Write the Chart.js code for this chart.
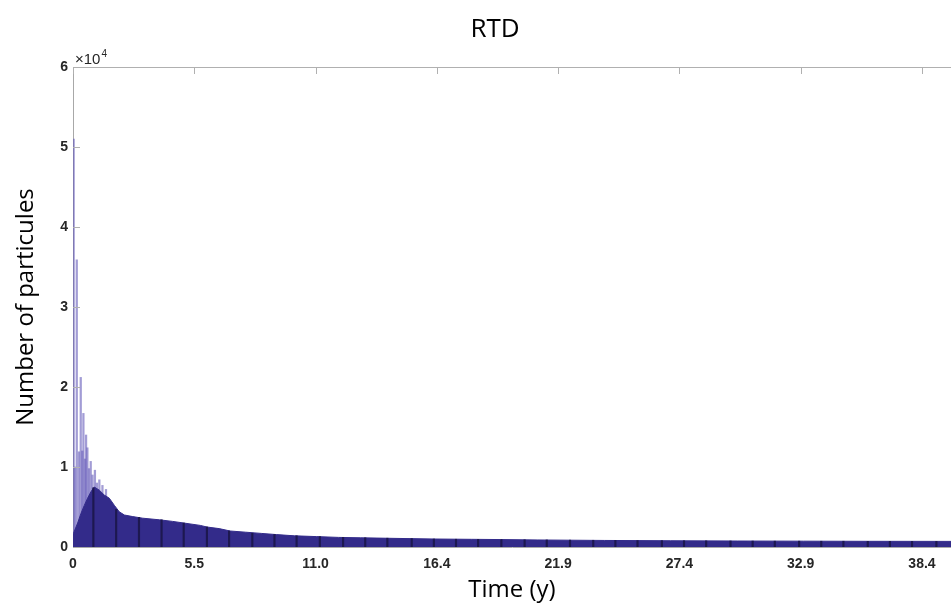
<!DOCTYPE html>
<html>
<head>
<meta charset="utf-8">
<title>RTD</title>
<script src="https://cdn.jsdelivr.net/npm/chart.js@4.4.1/dist/chart.umd.min.js"></script>
<style>
  html, body { margin: 0; padding: 0; background: #fff; overflow: hidden; }
  #wrap { width: 951px; height: 615px; position: relative; }
</style>
</head>
<body>
<div id="wrap"><canvas id="rtd"></canvas></div>
<script>
// x ticks (years) and their printed labels
const xTickValues = [0, 5.479, 10.957, 16.436, 21.914, 27.393, 32.871, 38.35];
const xTickLabels = ['0', '5.5', '11.0', '16.4', '21.9', '27.4', '32.9', '38.4'];

// outline of the dense part of the histogram
const bodyTime = [0, 0.02, 0.21, 0.36, 0.51, 0.66, 0.81, 0.96, 1.19, 1.41, 1.64, 1.87, 2.09, 2.32, 2.70, 3.15, 3.9, 4.5, 5.0, 5.75, 6.05, 6.6, 7.1, 7.8, 8.5, 9.2, 10.0, 11.0, 12.0, 13.0, 14.5, 16.3, 18.0, 19.3, 21.0, 24.0, 27.0, 30.0, 33.0, 36.0, 39.7];
const bodyCount = [0, 1700, 3000, 4200, 5200, 6100, 6900, 7500, 7100, 6500, 6100, 5200, 4400, 4000, 3800, 3600, 3400, 3200, 3000, 2700, 2500, 2300, 2000, 1850, 1700, 1550, 1400, 1300, 1200, 1150, 1080, 1000, 960, 930, 880, 820, 780, 750, 730, 710, 700];

// isolated tall bins near t = 0
const spikeTime = [0.03, 0.09, 0.17, 0.27, 0.35, 0.42, 0.47, 0.54, 0.59, 0.65, 0.72, 0.80, 0.88, 0.99, 1.08, 1.19, 1.33, 1.49];
const spikeCount = [51000, 10000, 35900, 11900, 21200, 12000, 16700, 11000, 14000, 12400, 9800, 10700, 9000, 9600, 8000, 8400, 7700, 7200];

// darker bin edges seen roughly every year
const edgeTime = [0.92, 1.95, 2.98, 4.0, 5.0, 6.05, 7.05, 8.1, 9.1, 10.1, 11.15, 12.2, 13.2, 14.2, 15.3, 16.3, 17.3, 18.3, 19.35, 20.4, 21.4, 22.45, 23.5, 24.5, 25.5, 26.6, 27.6, 28.6, 29.7, 30.7, 31.7, 32.8, 33.8, 34.8, 35.9, 36.9, 37.9, 39.0];
const edgeCount = [7400, 4700, 3700, 3400, 3000, 2500, 2000, 1720, 1560, 1400, 1300, 1200, 1150, 1100, 1050, 1000, 970, 950, 930, 900, 880, 860, 840, 820, 800, 790, 780, 770, 750, 740, 730, 730, 720, 720, 710, 710, 700, 700];

function pts(xs, ys) {
  return xs.map((x, i) => ({ x: x, y: ys[i] }));
}

// MATLAB-like box: top border, inward ticks, title and the x10^4 factor
const matlabBox = {
  id: 'matlabBox',
  afterDraw(chart) {
    const ctx = chart.ctx;
    const a = chart.chartArea;
    const xs = chart.scales.x, ys = chart.scales.y;
    ctx.save();
    ctx.strokeStyle = '#b0b0b0';
    ctx.lineWidth = 1;
    ctx.beginPath();
    ctx.moveTo(a.left, a.top + 0.5);
    ctx.lineTo(a.right, a.top + 0.5);
    xs.ticks.forEach(t => {
      const px = Math.round(xs.getPixelForValue(t.value)) + 0.5;
      ctx.moveTo(px, a.top);
      ctx.lineTo(px, a.top + 7);
    });
    ys.ticks.forEach(t => {
      const py = Math.round(ys.getPixelForValue(t.value)) + 0.5;
      if (t.value > 0) {
        ctx.moveTo(a.left, py);
        ctx.lineTo(a.left + 7, py);
      }
    });
    ctx.stroke();

    ctx.fillStyle = '#262626';
    ctx.textBaseline = 'alphabetic';
    ctx.textAlign = 'left';
    ctx.font = '15px "Liberation Sans", Arial, sans-serif';
    ctx.fillText('\u00d710', a.left + 2, a.top - 3);
    const w = ctx.measureText('\u00d710').width;
    ctx.font = '10px "Liberation Sans", Arial, sans-serif';
    ctx.fillText('4', a.left + 2 + w + 1, a.top - 10);

    ctx.fillStyle = '#000';
    ctx.textAlign = 'center';
    ctx.font = '26px "Open Sans", sans-serif';
    ctx.fillText('RTD', 495, 37);
    ctx.restore();
  }
};

new Chart(document.getElementById('rtd'), {
  type: 'bar',
  data: {
    datasets: [
      {
        type: 'bar',
        label: 'spikes',
        data: pts(spikeTime, spikeCount),
        backgroundColor: 'rgba(100, 90, 185, 0.6)',
        barThickness: 1.6,
        grouped: false,
        order: 3
      },
      {
        type: 'line',
        label: 'RTD',
        data: pts(bodyTime, bodyCount),
        backgroundColor: '#332b8a',
        borderColor: '#332b8a',
        borderWidth: 1,
        fill: 'origin',
        pointRadius: 0,
        tension: 0,
        order: 2
      },
      {
        type: 'bar',
        label: 'edges',
        data: pts(edgeTime, edgeCount),
        backgroundColor: '#1d1850',
        barThickness: 1.5,
        grouped: false,
        order: 1
      }
    ]
  },
  options: {
    responsive: true,
    maintainAspectRatio: false,
    animation: false,
    layout: { padding: { top: 67, right: 0, left: 0, bottom: 0 } },
    plugins: {
      legend: { display: false },
      tooltip: { enabled: false },
      title: { display: false }
    },
    scales: {
      x: {
        type: 'linear',
        min: 0,
        max: 39.66,
        offset: false,
        grid: { display: false, drawTicks: false, offset: false },
        border: { display: true, color: '#a8a8a8', width: 1 },
        afterBuildTicks(scale) {
          scale.ticks = xTickValues.map(v => ({ value: v }));
        },
        afterFit(scale) { scale.height = 68; },
        ticks: {
          autoSkip: false,
          maxRotation: 0,
          padding: 9,
          color: '#262626',
          font: { family: '"Liberation Sans", Arial, sans-serif', size: 14, weight: 'bold' },
          callback: (v, i) => xTickLabels[i]
        },
        title: {
          display: true,
          text: 'Time (y)',
          color: '#000',
          font: { family: '"Open Sans", sans-serif', size: 24 },
          padding: { top: 0, bottom: 10 }
        }
      },
      y: {
        min: 0,
        max: 60000,
        grid: { display: false, drawTicks: false },
        border: { display: true, color: '#a8a8a8', width: 1 },
        afterFit(scale) { scale.width = 73; },
        ticks: {
          stepSize: 10000,
          padding: 5,
          color: '#262626',
          font: { family: '"Liberation Sans", Arial, sans-serif', size: 14, weight: 'bold' },
          callback: v => String(v / 10000)
        },
        title: {
          display: true,
          text: 'Number of particules',
          color: '#000',
          font: { family: '"Open Sans", sans-serif', size: 24 },
          padding: { top: 12, bottom: 0 }
        }
      }
    }
  },
  plugins: [matlabBox]
});
</script>
</body>
</html>
